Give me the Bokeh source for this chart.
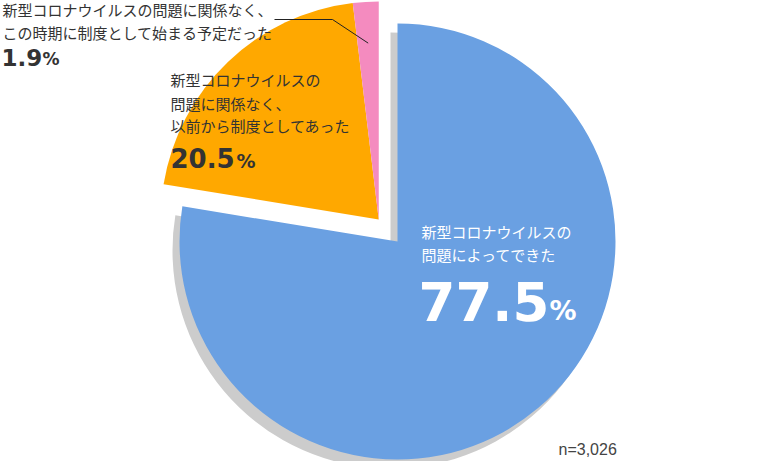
import math
from bokeh.plotting import figure
from bokeh.models import Range1d
from bokeh.core.properties import value
from bokeh.embed import file_html
from bokeh.resources import INLINE

# ---- data ----
categories = [
    "新型コロナウイルスの問題によってできた",
    "新型コロナウイルスの問題に関係なく、以前から制度としてあった",
    "新型コロナウイルスの問題に関係なく、この時期に制度として始まる予定だった",
]
shares = [77.5, 20.5, 1.9]
colors = ["#6aa0e2", "#ffa800", "#f48bbf"]
label_lines = [
    ["新型コロナウイルスの", "問題によってできた"],
    ["新型コロナウイルスの", "問題に関係なく、", "以前から制度としてあった"],
    ["新型コロナウイルスの問題に関係なく、", "この時期に制度として始まる予定だった"],
]
n_label = "n=3,026"

JP = value("Noto Sans CJK JP")
NUM = value("DejaVu Sans")

# ---- geometry (pixel-like units, y up) ----
CX, CY, R = 397, -241, 218
EXPLODE = 29
SHADOW = (-7, -9)

p = figure(width=752, height=461, output_backend="svg", toolbar_location=None,
           x_range=Range1d(0, 752), y_range=Range1d(-461, 0),
           min_border=0, outline_line_color=None, background_fill_color="white")
p.axis.visible = False
p.grid.visible = False

total = sum(shares)
angles = []
cum = 0.0
for s in shares:
    a1 = math.pi / 2 - 2 * math.pi * cum / total
    a2 = math.pi / 2 - 2 * math.pi * (cum + s) / total
    angles.append((a1, a2))
    cum += s

# explode the two small slices together
gmid = (angles[1][0] + angles[2][1]) / 2
ex, ey = EXPLODE * math.cos(gmid), EXPLODE * math.sin(gmid)
centers = [(CX, CY), (CX + ex, CY + ey), (CX + ex, CY + ey)]

# shadow of main slice
p.wedge(x=[CX + SHADOW[0]], y=[CY + SHADOW[1]], radius=R,
        start_angle=[angles[0][0]], end_angle=[angles[0][1]], direction="clock",
        fill_color="#cccccc", line_color=None)

for (a1, a2), (cx, cy), c in zip(angles, centers, colors):
    p.wedge(x=[cx], y=[cy], radius=R, start_angle=[a1], end_angle=[a2],
            direction="clock", fill_color=c, line_color=None)

# leader line for the small slice
pa1, pa2 = angles[2]
pm = (pa1 + pa2) / 2
px0 = centers[2][0] + 0.81 * R * math.cos(pm)
py0 = centers[2][1] + 0.81 * R * math.sin(pm)
p.line(x=[274, 332, px0], y=[-19, -19, py0], line_color="#222222", line_width=1)

# ---- labels ----
JP_DY = 2.5

def jp_lines(lines, x, centers_y, color):
    p.text(x=[x] * len(lines), y=[-(c - JP_DY) for c in centers_y], text=lines,
           text_font=JP, text_font_size="15px", text_color=color,
           text_baseline="middle", text_align="left")

def pct(v, x, base, size, psize, color, px):
    p.text(x=[x], y=[-(base - 0.365 * size)], text=[f"{v:.1f}"], text_font=NUM,
           text_font_style="bold", text_font_size=f"{size}px", text_color=color,
           text_baseline="middle")
    p.text(x=[px], y=[-(base - 0.365 * psize)], text=["%"], text_font=NUM,
           text_font_style="bold", text_font_size=f"{psize}px", text_color=color,
           text_baseline="middle")

# main slice
jp_lines(label_lines[0], 421, [233, 256], "white")
pct(shares[0], 418, 320, 53, 27, "white", 549)
# orange slice
jp_lines(label_lines[1], 170, [81, 105, 127], "#333333")
pct(shares[1], 170, 167, 26, 19, "#333333", 236)
# pink slice
jp_lines(label_lines[2], 2, [11, 34], "#333333")
pct(shares[2], 1, 65, 23, 17, "#333333", 42)

p.text(x=[558], y=[-449], text=[n_label], text_font=value("Liberation Sans"),
       text_font_size="16px", text_color="#444444", text_baseline="middle")

open("out.html", "w").write(file_html(p, INLINE))
